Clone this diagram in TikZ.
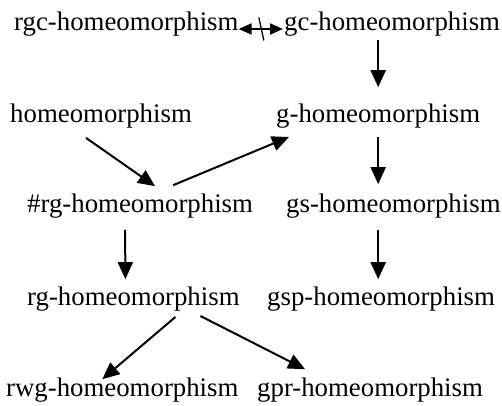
\documentclass[tikz,border=0pt]{standalone}
\usepackage{fontspec}
\setmainfont{Liberation Serif}
\usetikzlibrary{arrows.meta,calc}
\begin{document}
\begin{tikzpicture}[x=1pt,y=1pt,
  lbl/.style={inner sep=0pt,anchor=base west,font=\fontsize{26.8}{30}\selectfont},
  arr/.style={line width=2pt,-{Triangle[length=17pt,width=15pt]}},
  darr/.style={line width=2pt,{Triangle[length=13pt,width=11pt]}-{Triangle[length=13pt,width=11pt]}},
  slash/.style={line width=1.3pt}]
\useasboundingbox (0,0) rectangle (502,405);
\node[lbl] (rgc) at (14,374) {rgc-homeomorphism};
\node[lbl] (gc)  at (284,374) {gc-homeomorphism};
\node[lbl] (hom) at (10,283) {homeomorphism};
\node[lbl] (g)   at (276,283) {g-homeomorphism};
\node[lbl] (hrg) at (27,193) {\#rg-homeomorphism};
\node[lbl] (gs)  at (286,193) {gs-homeomorphism};
\node[lbl] (rg)  at (27,100) {rg-homeomorphism};
\node[lbl] (gsp) at (267,100) {gsp-homeomorphism};
\node[lbl] (rwg) at (6,9) {rwg-homeomorphism};
\node[lbl] (gpr) at (257,9) {gpr-homeomorphism};
% double arrow with slash
\draw[darr] ([yshift=2pt]rgc.base east) -- ([shift={(-1pt,2pt)}]gc.base west);
\coordinate (mid) at ($([yshift=2pt]rgc.base east)!0.5!([yshift=2pt]gc.base west)$);
\draw[slash] ([shift={(-2.5,11.5)}]mid) -- ([shift={(2.5,-11.5)}]mid);
% vertical arrows on the right
\draw[arr] ([yshift=-3pt]gc.south -| g.north) -- ([yshift=16pt]g.north);
\draw[arr] ([yshift=-9pt]g.south) -- ([yshift=9pt]gs.north -| g.south);
\draw[arr] ([yshift=-12pt]gs.south -| g.south) -- ([yshift=7pt]gsp.north -| g.south);
% left vertical
\draw[arr] ([shift={(-15pt,-12pt)}]hrg.south) -- ([shift={(-8pt,7pt)}]rg.north);
% diagonals
\draw[arr] ([shift={(-15pt,-10pt)}]hom.south) -- ([shift={(15pt,7pt)}]hrg.north);
\draw[arr] ([shift={(33pt,8pt)}]hrg.north) -- ([shift={(13pt,-9pt)}]g.south west);
\draw[arr] ([shift={(42pt,-6pt)}]rg.south) -- ([shift={(-20pt,-2pt)}]rwg.north);
\draw[arr] ([shift={(67pt,-5pt)}]rg.south) -- ([shift={(-65pt,8pt)}]gpr.north);
\end{tikzpicture}
\end{document}
